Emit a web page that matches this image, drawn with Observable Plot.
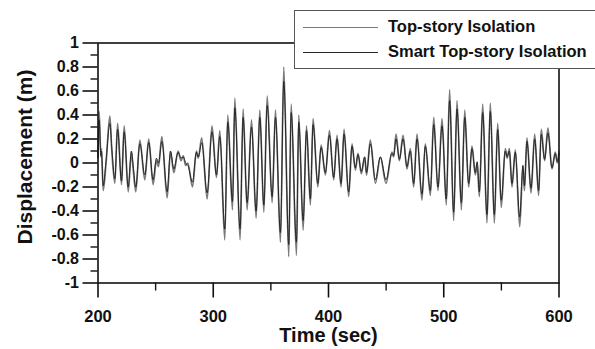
<!DOCTYPE html>
<html>
<head>
<meta charset="utf-8">
<script src="https://cdn.jsdelivr.net/npm/d3@7"></script>
<script src="https://cdn.jsdelivr.net/npm/@observablehq/plot@0.6"></script>
<style>
  html, body { margin: 0; padding: 0; background: #fff; overflow: hidden; }
  #wrap { position: relative; width: 595px; height: 349px; font-family: "Liberation Sans", Arial, sans-serif; }
  #legend { position: absolute; left: 294px; top: 10px; width: 320px; height: 59px; background: #fff;
            border: 1px solid #555; box-sizing: border-box; }
  .sw { position: absolute; left: 8px; width: 75px; height: 0; }
  .lab { position: absolute; left: 93px; white-space: nowrap; font-weight: bold; font-size: 16.5px; color: #111; line-height: 20px; }
</style>
</head>
<body>
<div id="wrap"></div>
<script>
// Time (sec) of the read-off turning points, shared by both series
const time = [
  200, 201, 202.5, 203, 204.5, 207, 210.3, 212, 214.6, 217, 220.4, 222.7, 226.2, 229, 230.5, 232.8,
  236.3, 240.6, 244, 247.8, 250.7, 252.5, 255.4, 260, 262.9, 265.8, 269.5, 272, 274, 276, 278, 282,
  285.4, 287, 290, 294.7, 298.9, 302.8, 305.7, 310, 312.6, 316.7, 318.7, 323.3, 325.9, 329.4, 333.2,
  337.2, 340.4, 343.9, 346.8, 351.1, 354, 358.3, 361.2, 365.5, 367.6, 372.2, 374.2, 378, 380.9, 384.3,
  386.6, 390.7, 393.6, 397.3, 400.8, 404.5, 407.4, 410.9, 413.5, 417.5, 420.4, 423.3, 425.6, 428.5,
  431.4, 433, 436.3, 440.7, 445, 449.9, 455.1, 456.5, 458.6, 461.5, 464.7, 468.1, 471, 473.9, 476.8,
  481.1, 484, 488.4, 491.3, 495, 498.5, 502.2, 505.1, 508.6, 511.5, 515.3, 518.2, 521.6, 524.5, 527.4,
  529, 530.9, 533.8, 537.5, 540.4, 543.9, 546.8, 549.9, 553.4, 555, 556.9, 559.2, 562.1, 565.9, 568.7,
  570, 572.2, 575.7, 578.9, 582.3, 584.6, 587.5, 590.4, 593.9, 596.8, 598.5, 600
];
// Displacement (m): Top-story Isolation
const topStory = [
  0.05, 0.43, 0.05, 0.12, -0.23, 0.0, 0.39, 0.1, -0.17, 0.33, -0.18, 0.31, -0.24, 0.09, -0.05, -0.24,
  0.19, -0.14, 0.2, -0.18, 0.02, -0.03, 0.22, -0.29, 0.09, -0.08, 0.1, 0.02, 0.06, -0.02, 0.0, -0.2,
  0.1, 0.04, 0.21, -0.3, 0.31, -0.12, 0.27, -0.64, 0.40, -0.39, 0.54, -0.64, 0.45, -0.39, 0.36,
  -0.46, 0.44, -0.41, 0.56, -0.33, 0.44, -0.66, 0.80, -0.78, 0.49, -0.77, 0.40, -0.56, 0.31, -0.35,
  0.37, -0.2, 0.15, -0.1, 0.27, -0.14, 0.23, -0.2, 0.28, -0.28, 0.16, -0.06, 0.08, -0.09,
  0.05, -0.1, 0.19, -0.17, 0.05, -0.17, 0.09, 0.05, 0.24, 0.02, 0.23, -0.05, 0.12, -0.2, 0.24,
  -0.31, 0.16, -0.27, 0.38, -0.23, 0.37, -0.35, 0.61, -0.48, 0.52, -0.39, 0.44, -0.2, 0.14, -0.1,
  0.0, -0.28, 0.49, -0.5, 0.5, -0.5, 0.33, -0.37, 0.12, 0.04, 0.12, -0.2, 0.11, -0.53, -0.03,
  -0.23, 0.21, -0.25, 0.24, -0.27, 0.28, 0.02, 0.29, -0.05, 0.09, 0.0, 0.1
];
// Displacement (m): Smart Top-story Isolation
const smartTopStory = [
  0.04, 0.36, 0.06, 0.1, -0.19, 0.02, 0.33, 0.12, -0.13, 0.28, -0.15, 0.26, -0.2, 0.1, -0.02, -0.2,
  0.16, -0.1, 0.17, -0.14, 0.04, 0.0, 0.18, -0.24, 0.1, -0.05, 0.09, 0.04, 0.05, 0.0, -0.02, -0.16,
  0.09, 0.05, 0.17, -0.25, 0.26, -0.1, 0.22, -0.55, 0.34, -0.32, 0.46, -0.55, 0.38, -0.33, 0.3,
  -0.4, 0.38, -0.35, 0.48, -0.28, 0.38, -0.58, 0.68, -0.68, 0.42, -0.66, 0.34, -0.48, 0.27, -0.3,
  0.32, -0.17, 0.13, -0.08, 0.23, -0.12, 0.2, -0.17, 0.24, -0.24, 0.14, -0.04, 0.07, -0.07,
  0.05, -0.08, 0.16, -0.14, 0.05, -0.14, 0.08, 0.06, 0.2, 0.03, 0.2, -0.03, 0.1, -0.17, 0.2,
  -0.26, 0.14, -0.23, 0.32, -0.2, 0.31, -0.3, 0.52, -0.41, 0.45, -0.33, 0.38, -0.17, 0.12, -0.08,
  0.01, -0.24, 0.42, -0.43, 0.43, -0.43, 0.28, -0.31, 0.1, 0.05, 0.1, -0.17, 0.09, -0.45, -0.02,
  -0.19, 0.18, -0.21, 0.2, -0.23, 0.24, 0.03, 0.25, -0.04, 0.08, 0.01, 0.08
];
const seriesNames = ["Top-story Isolation", "Smart Top-story Isolation"];
const seriesColors = ["#7a7a7a", "#262626"];
const xMajor = [200, 300, 400, 500, 600];
const xMinor = [250, 350, 450, 550];
const yMajor = [-1, -0.8, -0.6, -0.4, -0.2, 0, 0.2, 0.4, 0.6, 0.8, 1];
const yMinor = [-0.9, -0.7, -0.5, -0.3, -0.1, 0.1, 0.3, 0.5, 0.7, 0.9];
const yLabels = ["-1", "-0.8", "-0.6", "-0.4", "-0.2", "0", "0.2", "0.4", "0.6", "0.8", "1"];

const rowsTop = time.map((t, i) => ({t, v: topStory[i]}));
const rowsSmart = time.map((t, i) => ({t, v: smartTopStory[i]}));

const chart = Plot.plot({
  width: 595,
  height: 349,
  marginLeft: 97.5,
  marginRight: 36.5,
  marginTop: 42.5,
  marginBottom: 66.5,
  style: {fontFamily: "'Liberation Sans', Arial, sans-serif", background: "#fff", color: "#111"},
  x: {domain: [200, 600]},
  y: {domain: [-1, 1]},
  marks: [
    Plot.line(rowsTop, {x: "t", y: "v", stroke: seriesColors[0], strokeWidth: 1.7, curve: "monotone-x"}),
    Plot.line(rowsSmart, {x: "t", y: "v", stroke: seriesColors[1], strokeWidth: 1.0, curve: "monotone-x"}),
    Plot.frame({stroke: "#111", strokeWidth: 1.6}),
    Plot.axisY({ticks: yMajor, tickSize: 15, tickPadding: 4, strokeWidth: 1.6,
      tickFormat: (d) => yLabels[yMajor.indexOf(d)], fontSize: 16, fontWeight: "bold", label: null}),
    Plot.axisY({ticks: yMinor, tickSize: 7, text: null, strokeWidth: 1.4, label: null}),
    Plot.axisX({ticks: xMajor, tickSize: 15, tickPadding: 12, strokeWidth: 1.6,
      tickFormat: (d) => String(d), fontSize: 16.5, fontWeight: "bold", label: null}),
    Plot.axisX({ticks: xMinor, tickSize: 8, text: null, strokeWidth: 1.4, label: null}),
    Plot.text(["Time (sec)"], {frameAnchor: "bottom", textAnchor: "middle", dy: 53, fontSize: 20, fontWeight: "bold", lineAnchor: "middle", fill: "#111"}),
    Plot.text(["Displacement (m)"], {frameAnchor: "left", textAnchor: "middle", rotate: -90, dx: -73, dy: -6, fontSize: 21, fontWeight: "bold", lineAnchor: "middle", fill: "#111"})
  ]
});

const wrap = document.getElementById("wrap");
wrap.appendChild(chart);

const legend = document.createElement("div");
legend.id = "legend";
seriesNames.forEach((name, i) => {
  const sw = document.createElement("div");
  sw.className = "sw";
  sw.style.top = (i === 0 ? 15.5 : 40.5) + "px";
  sw.style.borderTop = (i === 0 ? 1.4 : 1.2) + "px solid " + seriesColors[i];
  legend.appendChild(sw);
  const lab = document.createElement("div");
  lab.className = "lab";
  lab.style.top = (i === 0 ? 5 : 30) + "px";
  lab.textContent = name;
  legend.appendChild(lab);
});
wrap.appendChild(legend);
</script>
</body>
</html>
